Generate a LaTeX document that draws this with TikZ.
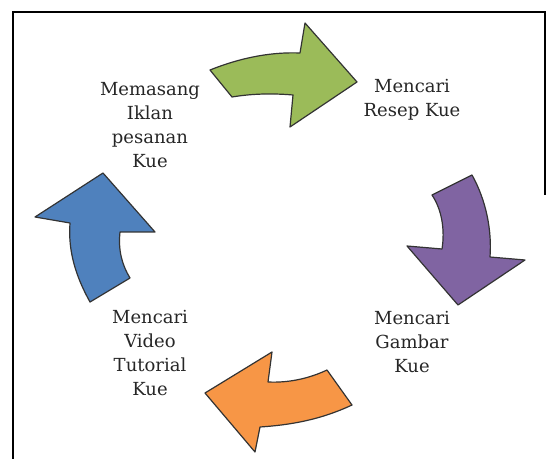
\documentclass[tikz,border=0pt]{standalone}
\usepackage{fontspec}
\setmainfont{DejaVu Serif}
\newfontfamily\labelfont{DejaVu Serif}
\usepackage{tikz}
\usetikzlibrary{calc, positioning}
\usepackage{xcolor}
\definecolor{stepGreen}{RGB}{155, 187, 89}
\definecolor{stepPurple}{RGB}{128, 100, 162}
\definecolor{stepOrange}{RGB}{247, 150, 70}
\definecolor{stepBlue}{RGB}{79, 129, 189}

\tikzset{
  cyclearrow/.style={draw=black!80, line width=0.6pt, line join=round},
  steplabel/.style={align=center, text=black!85, inner sep=0pt,
    font=\labelfont\fontsize{9}{12}\selectfont},
}

\begin{document}
\begin{tikzpicture}[x=0.5pt, y=-0.5pt]
  \useasboundingbox (0,0) rectangle (550,459);
  % --- frame ---
  \draw[line width=1.2pt] (13,459) -- (13,12) -- (545,12) -- (545,195);

  % --- arrows ---
  % top: green
  \fill[stepGreen, cyclearrow] (210,70) .. controls (245,56) and (275,52) .. (300,53)
    -- (305,23) -- (357,82) -- (290,127) -- (293,95)
    .. controls (270,93) and (250,94) .. (232,97) -- cycle;
  % right: purple
  \fill[stepPurple, cyclearrow] (432,195) -- (472,175)
    .. controls (486,200) and (492,230) .. (490,257)
    -- (525,260) -- (458,305) -- (407,246) -- (442,249)
    .. controls (445,230) and (442,210) .. (432,195) -- cycle;
  % bottom: orange
  \fill[stepOrange, cyclearrow] (327,370) -- (352,405)
    .. controls (320,420) and (290,425) .. (260,427)
    -- (255,452) -- (205,393) -- (272,352) -- (268,382)
    .. controls (290,383) and (310,378) .. (327,370) -- cycle;
  % left: blue
  \fill[stepBlue, cyclearrow] (103,173) -- (155,232) -- (120,232)
    .. controls (118,250) and (122,265) .. (130,278)
    -- (90,302) .. controls (75,275) and (68,250) .. (70,223)
    -- (35,217) -- cycle;

  % --- labels ---
  \node[steplabel] (iklan) at (150,125) {Memasang\\Iklan\\pesanan\\Kue};
  \node[steplabel] (resep) at (412,100) {Mencari\\Resep Kue};
  \node[steplabel] (gambar) at (412,342) {Mencari\\Gambar\\Kue};
  \node[steplabel] (video) at (150,353) {Mencari\\Video\\Tutorial\\Kue};
\end{tikzpicture}
\end{document}
